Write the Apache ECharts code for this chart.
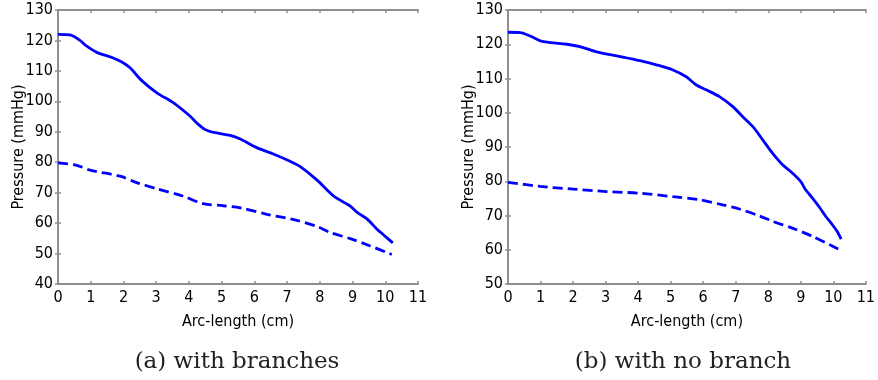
<!DOCTYPE html>
<html>
<head>
<meta charset="utf-8">
<script src="https://cdn.jsdelivr.net/npm/echarts@6/dist/echarts.min.js"></script>
<style>html,body{margin:0;padding:0;background:#fff;}#c{width:878px;height:380px;}</style>
</head>
<body>
<div id="c"></div>
<script>
// ---- data ----
var xTicks = [0,1,2,3,4,5,6,7,8,9,10,11];
var captionA = "(a) with branches";
var captionB = "(b) with no branch";
var xName = "Arc-length (cm)";
var yName = "Pressure (mmHg)";

var aSolidX = [0, 0.37, 0.67, 0.88, 1.2, 1.65, 1.95, 2.2, 2.56, 3.02, 3.53, 4.04, 4.24, 4.5, 4.76, 5.26, 5.57, 6.07, 6.58, 7.09, 7.38, 7.9, 8.42, 8.93, 9.13, 9.44, 9.74, 9.95, 10.23];
var aSolidY = [122.0, 121.8, 120.0, 118.1, 116.0, 114.4, 112.9, 111.0, 106.8, 102.8, 99.5, 95.1, 92.9, 90.7, 89.8, 88.8, 87.6, 84.8, 82.7, 80.3, 78.7, 74.3, 68.9, 65.6, 63.6, 61.4, 58.1, 56.1, 53.5];
var aDashX = [0, 0.57, 0.98, 1.9, 2.4, 3.02, 3.83, 4.44, 5.05, 5.57, 6.38, 7.3, 7.91, 8.32, 8.93, 9.54, 10.2];
var aDashY = [79.8, 79.0, 77.4, 75.4, 73.3, 71.3, 68.8, 66.4, 65.7, 65.0, 62.9, 60.9, 58.9, 56.9, 54.9, 52.5, 49.7];

var bSolidX = [0, 0.38, 0.68, 0.99, 1.3, 1.81, 2.21, 2.72, 3.34, 4.05, 4.56, 5.07, 5.48, 5.79, 6.09, 6.5, 6.91, 7.21, 7.52, 7.83, 8.13, 8.44, 8.74, 9.0, 9.15, 9.36, 9.56, 9.77, 9.97, 10.12, 10.24];
var bSolidY = [123.5, 123.4, 122.4, 121.0, 120.5, 120.0, 119.3, 117.8, 116.6, 115.2, 114.0, 112.5, 110.5, 108.1, 106.7, 104.7, 101.8, 98.9, 96.0, 92.1, 88.2, 84.8, 82.4, 79.9, 77.5, 75.1, 72.6, 69.7, 67.3, 65.3, 63.1];
var bDashX = [0, 0.99, 2.01, 3.03, 4.05, 5.07, 5.89, 6.6, 7.11, 7.72, 8.13, 8.74, 9.36, 10.17];
var bDashY = [79.7, 78.5, 77.7, 77.0, 76.5, 75.5, 74.6, 73.1, 71.9, 69.9, 68.3, 66.3, 63.9, 60.1];

var aYMin = 40, aYMax = 130;
var bYMin = 50, bYMax = 130;

// ---- helpers ----
function pairs(xs, ys){ return xs.map(function(x,i){ return [x, ys[i]]; }); }

var FONT = '"DejaVu Sans Condensed", "DejaVu Sans", sans-serif';
var axisColor = '#8f8f8f';
var blue = '#0000ff';
var txt = '#000';

function xAx(gi, pos, labels){
  return {
    type:'value', gridIndex:gi, position:pos, min:xTicks[0], max:xTicks[xTicks.length-1], interval:1,
    splitLine:{show:false},
    axisLine:{show:true, lineStyle:{color:axisColor, width:2}},
    axisTick:{show:true, inside:true, length:3, lineStyle:{color:axisColor, width:1.5}},
    axisLabel:{show:labels, margin:6, color:txt, fontSize:16, fontFamily:FONT},
    name: labels ? xName : '', nameLocation:'middle', nameGap:30, nameMoveOverlap:false,
    nameTextStyle:{color:txt, fontSize:16, fontFamily:FONT}
  };
}
function yAx(gi, pos, labels, mn, mx){
  return {
    type:'value', gridIndex:gi, position:pos, min:mn, max:mx, interval:10,
    splitLine:{show:false},
    axisLine:{show:true, lineStyle:{color:axisColor, width:2}},
    axisTick:{show:true, inside:true, length:3, lineStyle:{color:axisColor, width:1.5}},
    axisLabel:{show:labels, margin:5, color:txt, fontSize:16, fontFamily:FONT},
    name: labels ? yName : '', nameLocation:'middle', nameGap:31, nameRotate:90, nameMoveOverlap:false,
    nameTextStyle:{color:txt, fontSize:16, fontFamily:FONT}
  };
}
function line(xi, yi, data, dashed){
  return {
    type:'line', xAxisIndex:xi, yAxisIndex:yi, data:data, showSymbol:false, smooth:0.3,
    lineStyle:{color:blue, width:2.8, type: dashed ? [10,5] : 'solid'},
    itemStyle:{color:blue}, animation:false
  };
}

var chart = echarts.init(document.getElementById('c'), null, {renderer:'canvas'});
chart.setOption({
  backgroundColor:'#fff',
  animation:false,
  grid:[
    {left:58, top:10, width:360, height:274, containLabel:false},
    {left:508, top:10, width:359, height:274, containLabel:false}
  ],
  xAxis:[ xAx(0,'bottom',true), xAx(0,'top',false), xAx(1,'bottom',true), xAx(1,'top',false) ],
  yAxis:[ yAx(0,'left',true,aYMin,aYMax), yAx(0,'right',false,aYMin,aYMax),
          yAx(1,'left',true,bYMin,bYMax), yAx(1,'right',false,bYMin,bYMax) ],
  series:[
    line(0,0,pairs(aSolidX,aSolidY),false),
    line(0,0,pairs(aDashX,aDashY),true),
    line(2,2,pairs(bSolidX,bSolidY),false),
    line(2,2,pairs(bDashX,bDashY),true)
  ],
  graphic:[
    {type:'text', x:237, y:362, style:{text:captionA, fill:'#222', fontSize:23, fontFamily:'"DejaVu Serif", serif', align:'center', verticalAlign:'middle'}},
    {type:'text', x:683, y:362, style:{text:captionB, fill:'#222', fontSize:23, fontFamily:'"DejaVu Serif", serif', align:'center', verticalAlign:'middle'}}
  ]
});
</script>
</body>
</html>
